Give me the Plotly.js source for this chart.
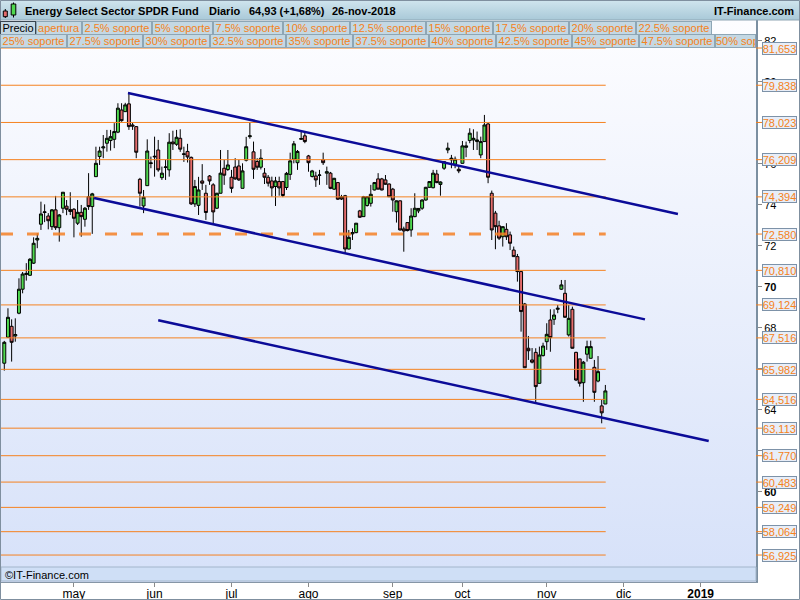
<!DOCTYPE html>
<html>
<head>
<meta charset="utf-8">
<script src="https://cdn.plot.ly/plotly-3.0.1.min.js"></script>
<style>html,body{margin:0;padding:0;background:#fff}#chart{width:800px;height:600px}</style>
</head>
<body>
<div id="chart"></div>
<script>
// ---------------- DATA ----------------
const openP = [66.28,67.55,68.08,67.61,68.72,69.89,70.61,70.57,71.16,72.29,73.06,73.63,73.46,72.94,73.76,72.89,73.84,73.94,73.78,73.79,
73.11,73.64,73.30,74.40,73.92,75.38,76.36,76.78,77.01,77.14,77.20,77.55,78.63,78.55,78.93,77.90,77.82,75.25,73.95,74.94,
76.02,76.34,76.68,75.33,75.83,75.71,77.07,76.96,77.25,76.46,76.61,76.32,74.05,73.98,75.17,74.57,75.41,74.98,73.84,74.57,
75.79,75.73,75.35,75.85,75.90,74.81,76.18,77.33,76.59,76.12,75.84,75.55,75.35,75.17,74.90,75.14,75.14,74.85,75.49,76.23,
76.06,77.20,77.37,76.39,75.39,75.41,75.44,76.20,75.55,75.55,74.77,75.09,74.39,74.45,71.85,72.59,72.65,73.71,73.43,73.97,
74.08,74.73,75.27,75.27,75.22,75.02,74.77,73.67,74.20,72.83,73.14,72.78,73.43,73.71,73.84,74.24,74.86,74.84,75.51,75.00,
75.79,76.68,76.20,75.99,75.74,76.03,76.81,77.14,77.17,77.09,76.44,77.09,77.95,74.57,73.60,72.98,72.45,72.81,72.54,71.80,
71.48,70.75,69.17,67.01,66.44,66.81,65.30,66.65,67.33,68.39,68.42,68.91,69.89,69.69,67.66,68.91,66.81,66.49,65.33,66.72,
66.52,66.08,65.41,64.20,64.29];
const highP = [67.37,68.96,68.42,68.47,70.42,70.73,71.16,71.41,72.42,72.62,74.16,74.03,73.60,73.80,74.44,73.56,74.63,74.24,74.62,73.85,
74.24,74.00,73.90,75.55,74.59,76.84,76.84,77.41,77.66,77.66,77.99,78.96,78.96,78.98,79.50,78.01,77.85,75.32,74.73,77.20,
76.36,77.33,77.17,75.87,76.20,77.50,77.62,77.66,77.69,76.84,76.98,76.36,75.22,75.37,75.99,74.98,75.46,75.06,74.59,76.68,
76.20,76.68,75.71,76.28,76.20,76.03,77.32,78.01,77.09,76.28,76.72,75.80,75.46,75.38,75.37,75.38,75.17,75.61,76.55,77.12,
76.68,77.56,77.58,76.44,75.71,75.62,75.71,76.55,75.87,75.61,75.32,75.12,74.49,74.49,72.78,72.86,73.12,73.76,74.44,74.41,
74.98,75.12,75.55,75.32,75.46,75.05,74.83,74.22,74.22,72.94,73.15,73.84,74.57,73.85,74.27,74.88,75.15,75.71,75.71,75.15,
76.12,77.04,76.44,76.36,75.90,77.12,77.09,77.74,77.69,77.58,77.33,78.39,78.00,74.70,73.71,73.23,72.95,73.11,72.70,71.97,
71.61,70.78,69.22,67.61,67.02,67.01,67.09,67.28,68.23,68.91,68.91,69.12,70.34,70.34,69.12,69.04,66.84,66.49,66.39,67.38,
67.38,66.44,66.63,64.49,65.22];
const lowP = [65.92,67.51,66.36,67.33,68.67,69.69,70.31,70.54,71.12,71.89,72.78,73.16,72.81,72.78,72.78,72.21,73.60,73.50,73.51,72.42,
73.02,72.45,72.94,73.76,72.59,75.37,75.95,76.28,76.60,76.65,76.77,77.50,78.06,78.54,77.66,77.66,76.28,73.92,73.60,74.94,
75.79,75.38,75.62,75.22,75.22,75.38,76.68,76.88,76.59,76.10,76.07,74.00,73.90,73.51,74.73,73.27,74.98,73.07,73.80,74.56,
74.98,75.66,74.59,75.22,75.17,74.81,76.12,77.23,75.27,75.71,75.73,75.02,74.90,74.40,73.95,74.45,74.38,74.73,75.22,76.03,
75.71,77.17,77.01,75.62,75.34,74.88,74.98,75.95,74.98,74.77,74.73,74.24,74.24,71.64,71.83,72.29,72.62,73.37,73.43,73.92,
73.92,74.71,74.76,74.71,74.98,74.39,73.67,73.14,72.75,71.72,72.71,72.45,73.40,73.60,73.76,74.21,74.83,74.81,75.06,74.45,
75.71,76.52,75.79,75.79,75.55,76.02,76.33,77.01,76.68,76.68,76.28,77.09,75.06,72.29,71.84,72.29,71.97,72.29,71.80,71.48,
70.26,67.82,66.05,66.44,66.27,64.33,65.29,66.61,66.93,66.84,68.15,68.72,69.85,68.51,67.58,67.00,65.41,65.14,64.40,66.36,
66.51,64.40,65.35,63.35,64.29];
const closeP = [67.30,68.52,67.30,67.68,69.89,70.63,70.66,71.35,72.13,72.37,73.56,73.66,73.23,73.76,72.89,73.51,74.62,73.79,73.68,73.35,
73.64,73.43,73.84,73.92,74.54,76.03,76.63,76.83,77.25,77.33,77.58,78.72,78.11,78.88,77.82,77.85,76.57,74.57,74.38,76.63,
76.05,76.37,75.71,75.55,75.85,77.06,76.98,77.30,76.72,76.49,76.34,74.05,74.90,74.73,75.06,73.63,75.17,73.66,74.57,75.55,
75.45,75.95,74.81,75.27,75.22,75.66,76.84,77.37,75.74,75.84,76.28,75.35,75.06,74.83,75.17,74.83,74.46,75.54,76.15,76.98,
76.61,77.24,77.09,76.06,75.66,75.22,75.46,76.06,75.62,74.81,75.30,74.28,74.29,71.85,72.42,72.65,73.11,73.40,74.40,74.40,
74.52,75.09,74.77,74.73,75.01,74.40,74.24,74.20,72.78,72.73,72.75,73.46,73.84,73.83,74.24,74.86,75.14,75.55,75.09,75.12,
76.11,76.77,76.28,76.23,75.66,76.88,76.88,77.50,77.25,77.17,77.09,77.90,75.35,72.78,72.94,72.38,72.94,72.45,72.13,71.48,
70.75,68.80,66.06,66.89,66.33,65.14,66.68,67.12,67.69,67.53,68.63,68.96,70.10,68.52,68.47,67.01,65.46,65.30,66.33,67.09,
67.09,64.86,65.87,63.86,64.93];

const supportLevels = [81.653,79.838,78.023,76.209,74.394,72.580,70.810,69.124,67.516,65.982,64.516,63.113,61.770,60.483,59.249,58.064,56.925];
const dashedLevels = [72.580];

// channel lines (x in trading-day index, y in price)
const channelUpperX = [33.75, 183.8], channelUpperY = [79.46, 73.56];
const channelMidX   = [24.5, 174.8],  channelMidY   = [74.34, 68.42];
const channelLowX   = [42.0, 192.2],  channelLowY   = [68.38, 62.49];

const monthTicks  = [19, 41, 62, 83, 106, 125, 148, 169, 190];
const monthLabels = ['may','jun','jul','ago','sep','oct','nov','dic','<b>2019</b>'];
const priceTicks  = [58,60,62,64,66,68,70,72,74,76,78,80,82];
const shownPriceTicks = [60,64,68,70,72,74,76,80,82];
const boldPriceTicks = [60,70,80];

const legendRow1 = ['Precio','apertura','2.5% soporte','5% soporte','7.5% soporte','10% soporte','12.5% soporte','15% soporte','17.5% soporte','20% soporte','22.5% soporte'];
const legendRow2 = ['25% soporte','27.5% soporte','30% soporte','32.5% soporte','35% soporte','37.5% soporte','40% soporte','42.5% soporte','45% soporte','47.5% soporte','50% soporte'];
const titleParts = ['Energy Select Sector SPDR Fund','Diario','64,93 (+1,68%)','26-nov-2018'];

// ---------------- LAYOUT HELPERS ----------------
const W = 800, H = 600, M = {l:1, r:44, t:20, b:18};
const pw = W - M.l - M.r, ph = H - M.t - M.b;
const X0 = -0.90, X1 = 205.1, Y0 = 55.61, Y1 = 83.02;
const px2paper = x => (x - M.l) / pw;
const py2paper = y => (H - M.b - y) / ph;
const FONT = 'Liberation Sans, Arial, sans-serif';
const ORANGE = '#f58220';

const idx = openP.map((_, i) => i);
const lastIdx = idx[idx.length - 1];

function measure(t, size, weight) {
  const c = document.createElement('canvas').getContext('2d');
  c.font = (weight || 'normal') + ' ' + size + 'px "Liberation Sans", Arial';
  return c.measureText(t).width;
}
function gradientSvg(top, bottom) {
  const s = '<svg xmlns="http://www.w3.org/2000/svg" width="20" height="200" preserveAspectRatio="none">' +
    '<defs><linearGradient id="g" x1="0" y1="0" x2="0" y2="1"><stop offset="0" stop-color="' + top + '"/>' +
    '<stop offset="1" stop-color="' + bottom + '"/></linearGradient></defs><rect width="20" height="200" fill="url(#g)"/></svg>';
  return 'data:image/svg+xml;base64,' + btoa(s);
}

// ---------------- TRACES ----------------
const traces = [];
// support lines
const solidX = [], solidY = [], dashX = [], dashY = [];
supportLevels.forEach(lv => {
  if (dashedLevels.includes(lv)) { dashX.push(X0, lastIdx + 0.1, null); dashY.push(lv, lv, null); }
  else { solidX.push(X0, lastIdx + 0.1, null); solidY.push(lv, lv, null); }
});
traces.push({x:solidX, y:solidY, mode:'lines', line:{color:ORANGE, width:1}, hoverinfo:'skip', showlegend:false});
traces.push({x:dashX, y:dashY, mode:'lines', line:{color:'rgba(244,128,36,0.85)', width:3, dash:'12px,14px'}, hoverinfo:'skip', showlegend:false});

// candles
traces.push({type:'candlestick', x:idx, open:openP, high:highP, low:lowP, close:closeP,
  increasing:{line:{color:'#000', width:1}, fillcolor:'#4fd84f'},
  decreasing:{line:{color:'#000', width:1}, fillcolor:'#e46c6c'},
  whiskerwidth:0, hoverinfo:'skip', showlegend:false});

// channel lines
[[channelUpperX, channelUpperY],[channelMidX, channelMidY],[channelLowX, channelLowY]].forEach(([cx, cy]) => {
  traces.push({x:cx, y:cy, mode:'lines', line:{color:'#0b0b98', width:2.5}, hoverinfo:'skip', showlegend:false});
});

// ---------------- SHAPES, IMAGES & ANNOTATIONS ----------------
const shapes = [], annotations = [], images = [];
function rectPx(x0, y0, x1, y1, fill, line, lw) {
  shapes.push({type:'rect', xref:'paper', yref:'paper', x0:px2paper(x0), x1:px2paper(x1), y0:py2paper(y1), y1:py2paper(y0),
    fillcolor:fill, line:{color:line || 'rgba(0,0,0,0)', width: lw === undefined ? (line ? 1 : 0) : lw}, layer:'above'});
}
function linePx(x0, y0, x1, y1, color, w) {
  shapes.push({type:'line', xref:'paper', yref:'paper', x0:px2paper(x0), x1:px2paper(x1), y0:py2paper(y0), y1:py2paper(y1),
    line:{color:color, width:w || 1}, layer:'above'});
}
// plot-area gradient background
images.push({source:gradientSvg('#fdfdff', '#d6e1f9'), xref:'paper', yref:'paper', x:0, y:1, sizex:1, sizey:1,
  xanchor:'left', yanchor:'top', sizing:'stretch', layer:'below'});
// header gradient band
images.push({source:gradientSvg('#d0e5ee', '#a9c9d8'), xref:'paper', yref:'paper', x:px2paper(0), y:py2paper(0),
  sizex:px2paper(800) - px2paper(0), sizey:py2paper(0) - py2paper(20), xanchor:'left', yanchor:'top', sizing:'stretch', layer:'above'});
linePx(0, 20, 800, 20, '#8fa6b4', 1);
// header icon (small candles)
linePx(5.3, 9, 5.3, 18, '#000', 1);
rectPx(3.3, 11, 7.3, 16.7, '#e46c6c', '#000', 1);
linePx(13.5, 2.5, 13.5, 17.5, '#000', 1);
rectPx(11.2, 4, 15.8, 15, '#4fd84f', '#000', 1);

const titleX = [23, 207, 247, 330];
titleParts.forEach((t, k) => annotations.push({xref:'paper', yref:'paper', x:px2paper(titleX[k]), y:py2paper(10.5),
  xanchor:'left', yanchor:'middle', showarrow:false, text:t, font:{family:FONT, size:11, color:'#000', weight:'bold'}}));
annotations.push({xref:'paper', yref:'paper', x:px2paper(796), y:py2paper(10.5), xanchor:'right', yanchor:'middle',
  showarrow:false, text:'IT-Finance.com', font:{family:FONT, size:11, color:'#000', weight:'bold'}});

// legend rows
function legendRow(items, yc, fillToEdge) {
  let left = 0;
  items.forEach((t, k) => {
    let w = Math.round(measure(t, 11)) + 5;
    const last = fillToEdge && k === items.length - 1;
    if (last) w = 756 - left;
    const sel = (t === 'Precio');
    annotations.push({xref:'paper', yref:'paper', x:px2paper(left), y:py2paper(yc), xanchor:'left', yanchor:'middle',
      showarrow:false, text:t, font:{family:FONT, size:11, color: sel ? '#000' : ORANGE},
      bgcolor:'#c4d8e3', bordercolor: sel ? '#3a4650' : '#8ea6b5', borderwidth:1, borderpad:0,
      width:w - 2, height:12, align: last ? 'left' : 'center'});
    left += w;
  });
}
legendRow(legendRow1, 27.5, false);
legendRow(legendRow2, 41.5, true);

// copyright strip
rectPx(1, 567, 756, 581, '#cfdff6', '#a3b6cb', 1);
annotations.push({xref:'paper', yref:'paper', x:px2paper(3), y:py2paper(574.5), xanchor:'left', yanchor:'middle',
  showarrow:false, text:'©IT-Finance.com', font:{family:FONT, size:11, color:'#000'}});

// right-axis level labels
supportLevels.forEach(lv => {
  shapes.push({type:'line', xref:'paper', yref:'y', x0:px2paper(756), x1:px2paper(762), y0:lv, y1:lv,
    line:{color:ORANGE, width:1}, layer:'above'});
  annotations.push({xref:'paper', yref:'y', x:px2paper(779.5), y:lv, xanchor:'center', yanchor:'middle',
    showarrow:false, text:lv.toFixed(3).replace('.', ','), font:{family:FONT, size:11, color:ORANGE},
    bgcolor:'#e8eef8', bordercolor:'#7d92a8', borderwidth:1, borderpad:0, width:33, height:11});
});

// outer frame
rectPx(0.5, 0.5, 799.5, 599.5, 'rgba(0,0,0,0)', '#7f8f9f', 1);

const layout = {
  width:W, height:H, margin:M, paper_bgcolor:'#ffffff', plot_bgcolor:'rgba(0,0,0,0)', showlegend:false,
  font:{family:FONT, size:11, color:'#000'},
  boxgap:0.1, boxgroupgap:0.1,
  xaxis:{range:[X0, X1], showgrid:false, zeroline:false, showline:true, mirror:true, linecolor:'#8696a6', linewidth:1,
    tickvals:monthTicks, ticktext:monthLabels, ticks:'outside', ticklen:4, tickcolor:'#8a8a8a', ticklabelstandoff:-3,
    tickfont:{family:'Liberation Sans Narrow, Arial Narrow, Liberation Sans, sans-serif', size:12, color:'#000'},
    rangeslider:{visible:false}, fixedrange:true},
  yaxis:{range:[Y0, Y1], side:'right', showgrid:false, zeroline:false, showline:true, mirror:true, linecolor:'#7b8fa1', linewidth:2,
    tickvals:priceTicks,
    ticktext:priceTicks.map(v => !shownPriceTicks.includes(v) ? '' : (boldPriceTicks.includes(v) ? '<b>' + v + '</b>' : String(v))),
    ticks:'outside', ticklen:4, tickcolor:'#8a8a8a', tickfont:{family:FONT, size:11, color:'#000'}, fixedrange:true},
  shapes:shapes, annotations:annotations, images:images, hovermode:false
};

Plotly.newPlot('chart', traces, layout, {staticPlot:true, displayModeBar:false});
</script>
</body>
</html>
